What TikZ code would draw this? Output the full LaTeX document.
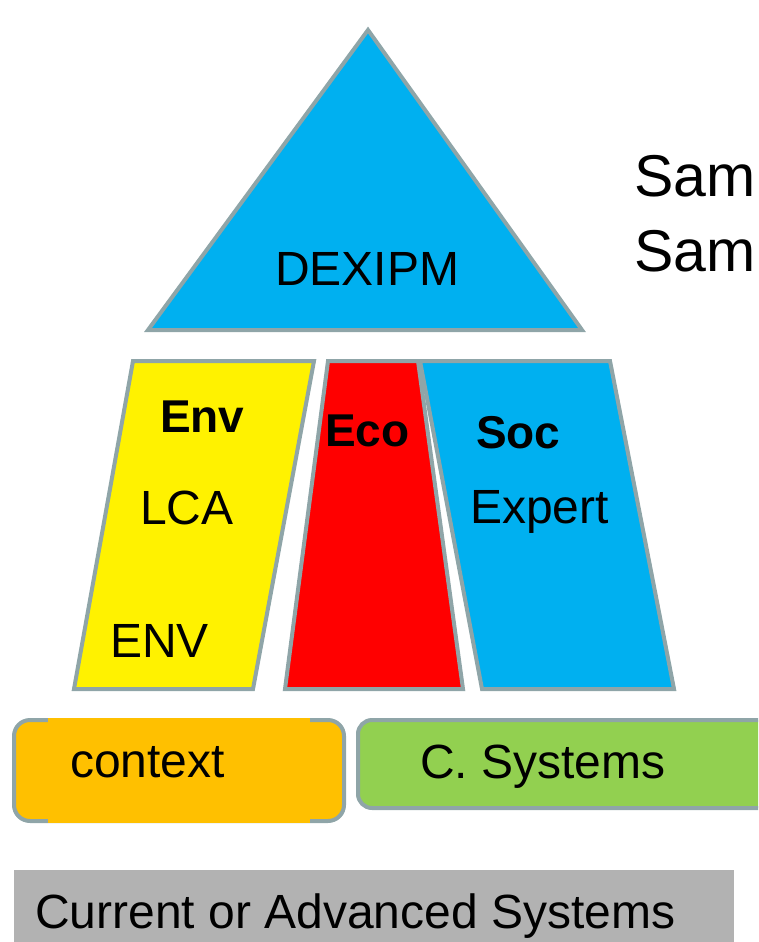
\documentclass[tikz,border=0pt]{standalone}
\usepackage{fontspec}
\setmainfont{Liberation Sans}
\definecolor{edgegray}{RGB}{143,165,168}
\definecolor{skyblue}{RGB}{0,176,240}
\definecolor{ctxorange}{RGB}{255,192,0}
\definecolor{sysgreen}{RGB}{146,208,80}
\definecolor{bargray}{RGB}{178,178,178}
\tikzset{
  part/.style={draw=edgegray,line width=4pt,line join=miter},
  lbl/.style={font=\fontsize{48}{56}\selectfont,inner sep=0pt,anchor=base west},
  hd/.style={font=\fontsize{46}{54}\selectfont\bfseries,inner sep=0pt,anchor=base west}
}
\begin{document}
\begin{tikzpicture}[x=1pt,y=-1pt]
\clip (0,0) rectangle (758,942);
% top of the pyramid
\draw[part,fill=skyblue] (368,30) -- (582,330) -- (148,330) -- cycle;
\node[lbl] (dexipm) at (275,285) {DEXIPM};
\node[lbl,font=\fontsize{59}{70}\selectfont] (sam1) at (634,196) {Sam};
\node[lbl,font=\fontsize{59}{70}\selectfont] (sam2) at (634,271) {Sam};
% the three pillars
\draw[part,fill=yellow] (133,361) -- (314,361) -- (253,689) -- (74,689) -- cycle;
\draw[part,fill=red] (328,361) -- (418,361) -- (463,689) -- (285,689) -- cycle;
\draw[part,fill=skyblue] (420,361) -- (610,361) -- (674,689) -- (482,689) -- cycle;
\node[hd] (env) at (160,432) {Env};
\node[lbl] (lca) at (140,524) {LCA};
\node[lbl] (envind) at (110,657) {ENV};
\node[hd] (eco) at (325,446) {Eco};
\node[hd] (soc) at (476,448) {Soc};
\node[lbl] (expert) at (470,523) {Expert};
% base
\draw[part,fill=ctxorange,rounded corners=16pt] (14,720) rectangle (344,821);
\fill[ctxorange] (48,718) rectangle (310,823);
\node[lbl] (context) at (70,777) {context};
\draw[part,fill=sysgreen,rounded corners=14pt] (358,720) rectangle (780,808);
\node[lbl] (csys) at (420,778) {C. Systems};
\fill[bargray] (14,870) rectangle (734,950);
\node[lbl] (current) at (35,928) {Current or Advanced Systems};
\end{tikzpicture}
\end{document}
